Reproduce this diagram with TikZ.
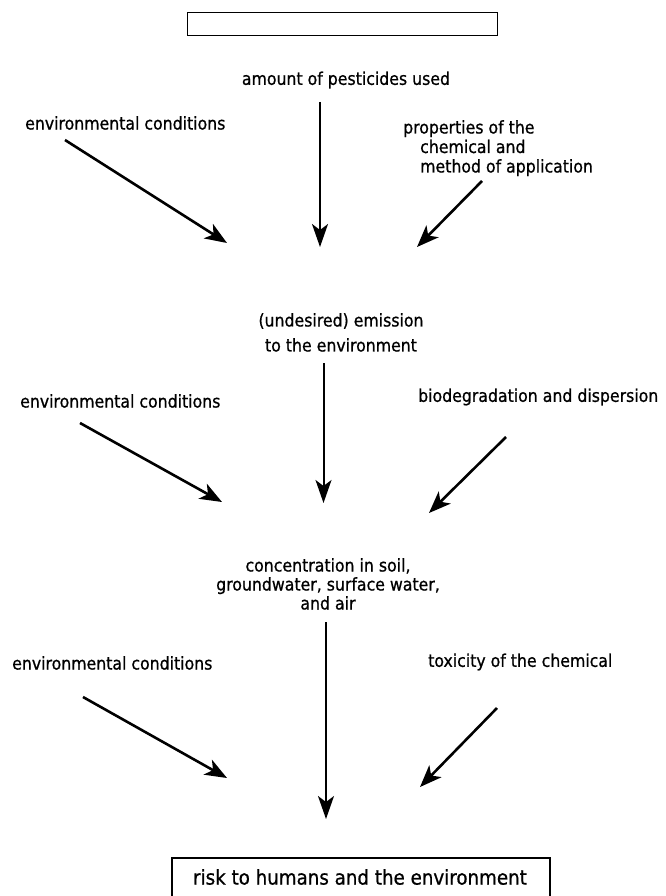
\documentclass[tikz,border=0pt]{standalone}
\usepackage{fontspec}
\setmainfont[FakeBold=0.8]{DejaVu Sans Condensed}
\usetikzlibrary{arrows.meta}
\tikzset{
  lbl/.style={inner sep=0pt, font=\fontsize{17.5}{19.5}\selectfont},
  box/.style={draw, line width=1.2pt, inner sep=0pt},
  diag/.style={line width=2.6pt, -{Stealth[length=22pt,width=17pt,inset=6pt]}},
  vert/.style={line width=2pt, -{Stealth[length=23pt,width=16pt,inset=6pt]}}
}
\begin{document}
\begin{tikzpicture}[x=1pt,y=-1pt]
\useasboundingbox (0,0) rectangle (665,896);
% top empty box
\node[box, line width=1pt, minimum width=310pt, minimum height=23pt] (top) at (342,24.5) {};
% level 1
\node[lbl] (amount) at (346,80) {amount of pesticides used};
\node[lbl, anchor=west] (env1) at (25,123) {environmental conditions};
\node[lbl, anchor=north west, align=left] (prop) at (403,120) {properties of the\\\hspace*{17pt}chemical and\\\hspace*{17pt}method of application};
\coordinate (a1s) at (320,102); \coordinate (a1e) at (320,247);
\coordinate (l1s) at (65,140);  \coordinate (l1e) at (227,243);
\coordinate (r1s) at (482,181); \coordinate (r1e) at (417,247);
\draw[vert] (a1s) -- (a1e);
\draw[diag] (l1s) -- (l1e);
\draw[diag] (r1s) -- (r1e);
% level 2
\node[lbl, align=center, font=\fontsize{17.5}{25}\selectfont, anchor=north] (emis) at (341,313) {(undesired) emission\\to the environment};
\node[lbl, anchor=west] (env2) at (20,401) {environmental conditions};
\node[lbl, anchor=west] (bio) at (418,397) {biodegradation and dispersion};
\coordinate (a2s) at (323.5,363); \coordinate (a2e) at (323.5,503);
\coordinate (l2s) at (80,423);  \coordinate (l2e) at (222,502);
\coordinate (r2s) at (506,437); \coordinate (r2e) at (429,513);
\draw[vert] (a2s) -- (a2e);
\draw[diag] (l2s) -- (l2e);
\draw[diag] (r2s) -- (r2e);
% level 3
\node[lbl, align=center, font=\fontsize{17.5}{19}\selectfont, anchor=north] (conc) at (328,558) {concentration in soil,\\groundwater, surface water,\\and air};
\node[lbl, anchor=west] (env3) at (12,663) {environmental conditions};
\node[lbl, anchor=west] (tox) at (428,662) {toxicity of the chemical};
\coordinate (a3s) at (326,622); \coordinate (a3e) at (326,819);
\coordinate (l3s) at (83,697);  \coordinate (l3e) at (227,778);
\coordinate (r3s) at (497,708); \coordinate (r3e) at (420,787);
\draw[vert] (a3s) -- (a3e);
\draw[diag] (l3s) -- (l3e);
\draw[diag] (r3s) -- (r3e);
% bottom box
\draw[line width=1.5pt] (172,897) -- (172,858) -- (550,858) -- (550,897);
\node[inner sep=0pt, font=\fontsize{20.3}{22}\selectfont] (risk) at (360,877) {risk to humans and the environment};
\end{tikzpicture}
\end{document}
